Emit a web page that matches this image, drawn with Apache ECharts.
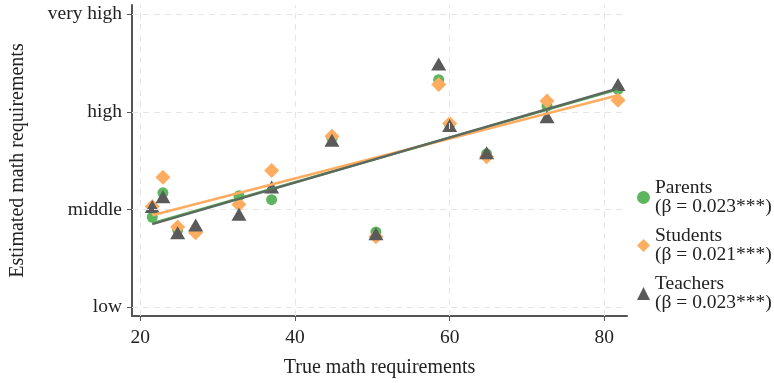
<!DOCTYPE html>
<html>
<head>
    <meta charset="utf-8">
    <title>Math requirements</title>
    <script src="https://cdn.jsdelivr.net/npm/echarts@6/dist/echarts.min.js"></script>
    <style>
        html, body { margin: 0; padding: 0; background: #fff; }
    </style>
</head>
<body>
<div id="main" style="width: 774px;height:383px;"></div>
<script>
    // true math requirements of the occupations (x)
    var trueReq = [21.55, 22.93, 24.83, 27.16, 32.76, 36.98, 44.78, 50.47, 58.58, 60.0, 64.78, 72.59, 81.77];
    // estimates, 1 = low ... 4 = very high
    var parents  = [1.92, 2.17, 1.79, 1.78, 2.14, 2.10, 2.73, 1.77, 3.33, 2.87, 2.57, 3.06, 3.23];
    var students = [2.03, 2.33, 1.82, 1.76, 2.05, 2.40, 2.75, 1.72, 3.28, 2.88, 2.54, 3.11, 3.12];
    var teachers = [2.03, 2.13, 1.76, 1.84, 1.95, 2.23, 2.71, 1.75, 3.49, 2.86, 2.58, 2.95, 3.28];

    // fitted lines: [x start, x end], [y start, y end]
    var fitX = [21.55, 81.77];
    var fitParents  = [1.86, 3.23];
    var fitStudents = [1.94, 3.17];
    var fitTeachers = [1.85, 3.24];

    var yTicks = [1, 2, 3, 4];
    var yTickLabels = ['low', 'middle', 'high', 'very high'];
    var xTicks = [20, 40, 60, 80];
    var betas = { Parents: '0.023***', Students: '0.021***', Teachers: '0.023***' };

    var cGreen = '#5eb55f', cOrange = '#fdac60', cDark = '#5a5a5a';
    var serif = '"Liberation Serif", "DejaVu Serif", serif';

    function pts(ys) {
        return trueReq.map(function (x, i) { return [x, ys[i]]; });
    }
    function fit(ys) {
        return [[fitX[0], ys[0]], [fitX[1], ys[1]]];
    }
    var gridStyle = { color: '#e6e6e6', type: [6, 5], width: 1 };

    var myChart = echarts.init(document.getElementById('main'));
    myChart.setOption({
        animation: false,
        grid: { left: 132, right: 147, top: 5, bottom: 65 },
        legend: {
            orient: 'vertical',
            left: 632,
            top: 173,
            itemGap: 9,
            itemWidth: 13,
            itemHeight: 13,
            data: [
                { name: 'Parents', icon: 'circle' },
                { name: 'Students', icon: 'diamond' },
                { name: 'Teachers', icon: 'triangle' }
            ],
            formatter: function (name) {
                return name + '\n(β = ' + betas[name] + ')';
            },
            textStyle: { fontFamily: serif, fontSize: 19.5, color: '#222', lineHeight: 19 }
        },
        xAxis: {
            type: 'value',
            min: 18.93,
            max: 82.93,
            name: 'True math requirements',
            nameLocation: 'middle',
            nameGap: 42,
            nameTextStyle: { fontFamily: serif, fontSize: 20, color: '#222' },
            axisLine: { show: true, onZero: false, lineStyle: { color: '#555', width: 2 } },
            axisTick: { show: true, length: 5, customValues: xTicks, lineStyle: { color: '#555' } },
            axisLabel: { customValues: xTicks, fontFamily: serif, fontSize: 19.5, color: '#222', margin: 12 },
            splitLine: { show: false }
        },
        yAxis: {
            type: 'value',
            min: 0.908,
            max: 4.095,
            name: 'Estimated math requirements',
            nameLocation: 'middle',
            nameGap: 104,
            nameTextStyle: { fontFamily: serif, fontSize: 20, color: '#222' },
            axisLine: { show: true, onZero: false, lineStyle: { color: '#555', width: 2 } },
            axisTick: { show: true, length: 5, customValues: yTicks, lineStyle: { color: '#555' } },
            axisLabel: {
                customValues: yTicks,
                fontFamily: serif, fontSize: 19.5, color: '#222', margin: 10,
                padding: [6, 0, 0, 0],
                formatter: function (v) { return yTickLabels[yTicks.indexOf(Math.round(v))] || ''; }
            },
            splitLine: { show: false }
        },
        series: [
            {
                name: 'grid',
                type: 'line',
                data: [],
                silent: true,
                markLine: {
                    symbol: 'none',
                    silent: true,
                    label: { show: false },
                    lineStyle: gridStyle,
                    data: xTicks.map(function (v) { return { xAxis: v }; })
                        .concat(yTicks.map(function (v) { return { yAxis: v }; }))
                },
                z: 0
            },
            {
                name: 'Parents', type: 'scatter', symbol: 'circle', symbolSize: 11,
                itemStyle: { color: cGreen, opacity: 1 }, data: pts(parents), z: 2
            },
            {
                name: 'Students', type: 'scatter', symbol: 'diamond', symbolSize: 15,
                itemStyle: { color: cOrange, opacity: 1 }, data: pts(students), z: 3
            },
            {
                name: 'Teachers', type: 'scatter', symbol: 'triangle', symbolSize: [15, 13],
                itemStyle: { color: cDark, opacity: 1 }, data: pts(teachers), z: 4
            },
            {
                name: 'fitParents', type: 'line', data: fit(fitParents), showSymbol: false, symbol: 'none',
                lineStyle: { color: cGreen, width: 2.5 }, z: 5
            },
            {
                name: 'fitStudents', type: 'line', data: fit(fitStudents), showSymbol: false, symbol: 'none',
                lineStyle: { color: cOrange, width: 2.5 }, z: 5
            },
            {
                name: 'fitTeachers', type: 'line', data: fit(fitTeachers), showSymbol: false, symbol: 'none',
                lineStyle: { color: '#5b6a5e', width: 2.5 }, z: 6
            }
        ]
    });
</script>
</body>
</html>
